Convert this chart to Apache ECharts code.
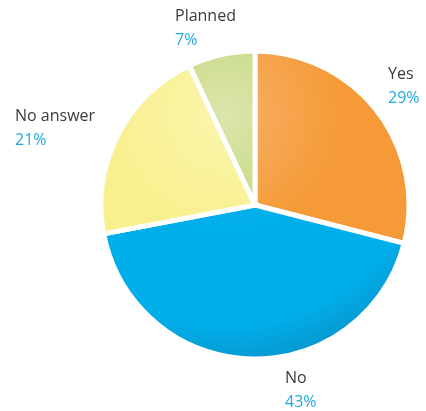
<!DOCTYPE html>
<html>
<head>
<meta charset="utf-8">
<script src="https://cdn.jsdelivr.net/npm/echarts@6/dist/echarts.min.js"></script>
<style>html,body{margin:0;padding:0;background:#fff;}#c{width:426px;height:411px;}</style>
</head>
<body>
<div id="c"></div>
<script>
const categories = ['Yes', 'No', 'No answer', 'Planned'];
const values = [29, 43, 21, 7];
const baseColors = ['#f59a36', '#00aeea', '#f8f08e', '#c3d77a'];
const edgeColors = ['#d2742a', '#0a8fc4', '#ece48a', '#b5c96e'];
const lightColors = ['#f8b06a', '#12b4ec', '#fbf5ac', '#dbe6ac'];
// label anchor positions (layout only)
const labelPos = [[388, 62], [285, 366], [15, 104], [175, 4]];

const cx = 255, cy = 205, R = 154;
const chart = echarts.init(document.getElementById('c'));
const data = categories.map((n, i) => ({
  name: n,
  value: values[i],
  itemStyle: {
    color: new echarts.graphic.RadialGradient(cx - 30, cy - 90, R + 110, [
      { offset: 0, color: lightColors[i] },
      { offset: 0.45, color: baseColors[i] },
      { offset: 0.8, color: baseColors[i] },
      { offset: 1, color: edgeColors[i] }
    ], true)
  }
}));
chart.setOption({
  animation: false,
  series: [{
    type: 'pie',
    center: [cx, cy],
    radius: [0, R],
    startAngle: 90,
    clockwise: true,
    data: data,
    itemStyle: { borderColor: '#ffffff', borderWidth: 5 },
    label: {
      show: true,
      position: 'outside',
      alignTo: 'none',
      overflow: 'none',
      formatter: p => '{n|' + p.name + '}\n{v|' + p.value + '%}',
      rich: {
        n: { color: '#3a3a3a', fontSize: 16, lineHeight: 24, fontFamily: 'Open Sans' },
        v: { color: '#1fa9e1', fontSize: 16, lineHeight: 24, fontFamily: 'Open Sans' }
      }
    },
    labelLine: { show: false },
    labelLayout: function (p) {
      const pos = labelPos[p.dataIndex];
      return { x: pos[0], y: pos[1], align: 'left', verticalAlign: 'top', width: 120 };
    },
    emphasis: { disabled: true }
  }]
});
</script>
</body>
</html>
